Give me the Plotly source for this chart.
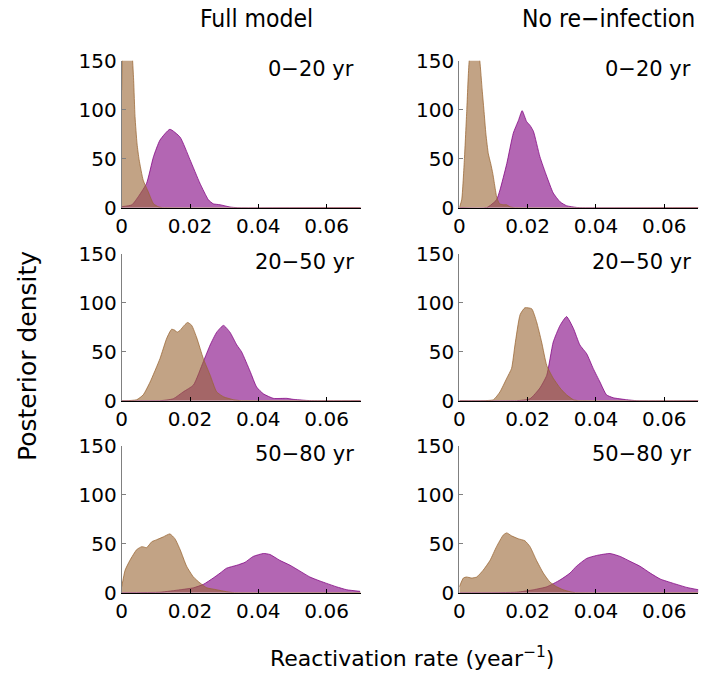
import plotly.graph_objects as go

W, H = 701, 673

col_titles = ["Full model", "No re\u2212infection"]
age_labels = ["0\u221220 yr", "20\u221250 yr", "50\u221280 yr"]
x_tickvals = [0, 0.02, 0.04, 0.06]
x_ticktext = ["0", "0.02", "0.04", "0.06"]
y_tickvals = [0, 50, 100, 150]
y_ticktext = ["0", "50", "100", "150"]

# ---- Full model, 0-20 yr
full_0_20_tan_x = [0, 0.0003, 0.001, 0.002, 0.003, 0.0035, 0.0039, 0.0045, 0.0051, 0.0063, 0.0078, 0.0093, 0.0107, 0.012, 0.07]
full_0_20_tan_y = [120, 175, 195, 185, 160, 130, 93, 65, 49, 28, 16, 4, 1, 0, 0]
full_0_20_pur_x = [0, 0.003, 0.005, 0.0073, 0.0093, 0.0112, 0.0141, 0.0171, 0.02, 0.0229, 0.0254, 0.0268, 0.0288, 0.0317, 0.034, 0.07]
full_0_20_pur_y = [1, 3, 12, 25, 52, 69, 80, 72, 49, 25, 8, 4, 3, 0.7, 0, 0]

# ---- No re-infection, 0-20 yr
noreinf_0_20_tan_x = [0, 0.0007, 0.0015, 0.0022, 0.0029, 0.0045, 0.006, 0.0067, 0.0072, 0.0078, 0.0085, 0.0092, 0.0098, 0.0104, 0.011, 0.0118, 0.0128, 0.0138, 0.0148, 0.016, 0.07]
noreinf_0_20_tan_y = [0, 8, 50, 100, 150, 185, 150, 120, 100, 75, 55, 45, 35, 22, 10, 4, 3, 3, 1, 0, 0]
noreinf_0_20_pur_x = [0, 0.008, 0.0109, 0.0119, 0.0139, 0.0158, 0.0173, 0.0184, 0.0197, 0.0207, 0.0217, 0.0236, 0.0256, 0.0275, 0.0295, 0.0314, 0.0343, 0.036, 0.07]
noreinf_0_20_pur_y = [0, 0, 8, 18, 45, 76, 89, 99, 88, 84, 78, 52, 32, 15, 6, 2, 0.3, 0, 0]

# ---- Full model, 20-50 yr
full_20_50_tan_x = [0, 0.0015, 0.0044, 0.0063, 0.0083, 0.0112, 0.0132, 0.0146, 0.0156, 0.0162, 0.0171, 0.0183, 0.0193, 0.0205, 0.022, 0.0239, 0.0259, 0.0278, 0.0298, 0.0327, 0.035, 0.07]
full_20_50_tan_y = [0, 0, 1, 6, 19, 43, 64, 73, 72, 70, 72, 77, 80, 77, 64, 43, 26, 9, 4, 1, 0, 0]
full_20_50_pur_x = [0, 0.0112, 0.0151, 0.018, 0.021, 0.0239, 0.0259, 0.0278, 0.0298, 0.0317, 0.0337, 0.0351, 0.0376, 0.0395, 0.0415, 0.0444, 0.0483, 0.0502, 0.0541, 0.056, 0.07]
full_20_50_pur_y = [0, 0, 2, 9, 16, 40, 57, 70, 77, 70, 57, 50, 30, 14, 7, 2.4, 2.4, 1.4, 0.3, 0, 0]

# ---- No re-infection, 20-50 yr
noreinf_20_50_tan_x = [0, 0.007, 0.01, 0.0119, 0.0139, 0.0153, 0.0163, 0.0178, 0.0192, 0.0212, 0.0226, 0.0241, 0.0256, 0.0275, 0.0295, 0.0314, 0.0334, 0.035, 0.07]
noreinf_20_50_tan_y = [0, 0, 1, 9, 23, 33, 57, 88, 95, 94, 81, 60, 36, 23, 13, 6, 1, 0, 0]
noreinf_20_50_pur_x = [0, 0.0168, 0.0207, 0.0236, 0.0256, 0.0275, 0.0295, 0.0314, 0.0334, 0.0353, 0.0373, 0.0392, 0.0412, 0.0431, 0.0451, 0.049, 0.052, 0.07]
noreinf_20_50_pur_y = [0, 0, 2, 13, 26, 60, 77, 86, 74, 57, 48, 33, 19, 6, 3, 1, 0, 0]

# ---- Full model, 50-80 yr
full_50_80_tan_x = [0, 0.001, 0.0024, 0.0044, 0.0059, 0.0073, 0.0088, 0.0102, 0.0122, 0.0141, 0.0156, 0.0171, 0.019, 0.021, 0.0229, 0.0249, 0.0278, 0.0307, 0.033, 0.07]
full_50_80_tan_y = [6, 23, 33, 44, 47, 46, 52, 54, 57, 60, 55, 44, 27, 16, 10, 5, 3, 1, 0, 0]
full_50_80_pur_x = [0, 0.0112, 0.0171, 0.021, 0.0239, 0.0268, 0.0288, 0.0307, 0.0337, 0.0361, 0.0385, 0.0415, 0.0434, 0.0463, 0.0493, 0.0522, 0.0551, 0.058, 0.06, 0.0629, 0.0659, 0.0698]
full_50_80_pur_y = [0, 0.5, 3, 5, 8.5, 15, 20, 25, 28, 31, 37, 40, 39, 33, 28, 22, 16, 12, 9.5, 6, 3, 1.4]

# ---- No re-infection, 50-80 yr
noreinf_50_80_tan_x = [0, 0.0012, 0.0021, 0.0036, 0.0051, 0.007, 0.009, 0.0109, 0.0129, 0.0139, 0.0153, 0.0173, 0.0192, 0.0207, 0.0226, 0.0246, 0.0265, 0.0285, 0.0304, 0.0324, 0.034, 0.07]
noreinf_50_80_tan_y = [6, 15, 16, 15, 16, 23, 33, 47, 59, 61, 58, 55, 53, 47, 33, 20, 11, 6, 3, 1, 0, 0]
noreinf_50_80_pur_x = [0, 0.0168, 0.0217, 0.0256, 0.0295, 0.0324, 0.0343, 0.0373, 0.0402, 0.0441, 0.0471, 0.05, 0.0529, 0.0559, 0.0588, 0.0627, 0.0666, 0.07]
noreinf_50_80_pur_y = [0, 0.5, 3, 6, 13, 20, 27, 35, 38, 40, 37, 32, 27, 20, 14, 9.5, 5.4, 3]

panels = [
    [(full_0_20_tan_x, full_0_20_tan_y, full_0_20_pur_x, full_0_20_pur_y),
     (noreinf_0_20_tan_x, noreinf_0_20_tan_y, noreinf_0_20_pur_x, noreinf_0_20_pur_y)],
    [(full_20_50_tan_x, full_20_50_tan_y, full_20_50_pur_x, full_20_50_pur_y),
     (noreinf_20_50_tan_x, noreinf_20_50_tan_y, noreinf_20_50_pur_x, noreinf_20_50_pur_y)],
    [(full_50_80_tan_x, full_50_80_tan_y, full_50_80_pur_x, full_50_80_pur_y),
     (noreinf_50_80_tan_x, noreinf_50_80_tan_y, noreinf_50_80_pur_x, noreinf_50_80_pur_y)],
]

PUR_FILL = "rgba(128,0,128,0.6)"
PUR_LINE = "rgba(128,0,128,0.75)"
TAN_FILL = "rgba(153,102,51,0.6)"
TAN_LINE = "rgba(153,102,51,0.75)"

FONT = "DejaVu Sans"

# pixel layout (margins zero => paper == full page)
col_px = [(121.7, 360.8), (459.3, 698.4)]
row_px = [(60.7, 207.7), (254.0, 400.7), (445.7, 592.7)]

fig = go.Figure()
layout = {}
annotations = []
idx = 0
for r in range(3):
    for c in range(2):
        idx += 1
        xa = "x" if idx == 1 else f"x{idx}"
        ya = "y" if idx == 1 else f"y{idx}"
        tx, ty, px_, py_ = panels[r][c]
        fig.add_trace(go.Scatter(x=px_, y=py_, mode="lines", fill="tozeroy",
                                 fillcolor=PUR_FILL, line=dict(color=PUR_LINE, width=1, shape="spline", smoothing=0.5),
                                 xaxis=xa, yaxis=ya, showlegend=False, hoverinfo="skip"))
        fig.add_trace(go.Scatter(x=tx, y=ty, mode="lines", fill="tozeroy",
                                 fillcolor=TAN_FILL, line=dict(color=TAN_LINE, width=1, shape="spline", smoothing=0.5),
                                 xaxis=xa, yaxis=ya, showlegend=False, hoverinfo="skip"))
        x0, x1 = col_px[c]
        yt, yb = row_px[r]
        xkey = "xaxis" if idx == 1 else f"xaxis{idx}"
        ykey = "yaxis" if idx == 1 else f"yaxis{idx}"
        layout[xkey] = dict(domain=[x0 / W, x1 / W], anchor=ya, range=[0, 0.07], automargin=False,
                            tickvals=x_tickvals, ticktext=x_ticktext, ticks="inside", ticklen=4,
                            tickcolor="black", showline=True, linecolor="black", linewidth=1,
                            showgrid=False, zeroline=False,
                            tickfont=dict(family=FONT, size=20, color="black"))
        layout[ykey] = dict(domain=[1 - yb / H, 1 - yt / H], anchor=xa, range=[0, 150], automargin=False,
                            tickvals=y_tickvals, ticktext=y_ticktext, ticks="inside", ticklen=4,
                            tickcolor="#808080", showline=True, linecolor="#808080", linewidth=1,
                            showgrid=False, zeroline=False,
                            tickfont=dict(family=FONT, size=20, color="black"))
        annotations.append(dict(text=age_labels[r], xref="paper", yref="paper",
                                x=(x1 - 5) / W, y=1 - (yt + 8) / H, xanchor="right", yanchor="middle",
                                showarrow=False, font=dict(family=FONT, size=21, color="black")))

annotations.append(dict(text=col_titles[0], xref="paper", yref="paper", x=256 / W, y=1 - 18 / H,
                        xanchor="center", yanchor="middle", showarrow=False,
                        font=dict(family="DejaVu Sans Condensed", size=24.5, color="black")))
annotations.append(dict(text=col_titles[1], xref="paper", yref="paper", x=608 / W, y=1 - 18 / H,
                        xanchor="center", yanchor="middle", showarrow=False,
                        font=dict(family="DejaVu Sans Condensed", size=24.5, color="black")))
annotations.append(dict(text="Posterior density", xref="paper", yref="paper", x=27 / W, y=1 - 356 / H,
                        xanchor="center", yanchor="middle", textangle=-90, showarrow=False,
                        font=dict(family=FONT, size=25, color="black")))
annotations.append(dict(text="Reactivation rate (year<sup>\u22121</sup>)", xref="paper", yref="paper",
                        x=412 / W, y=1 - 657 / H, xanchor="center", yanchor="middle", showarrow=False,
                        font=dict(family=FONT, size=22, color="black")))

fig.update_layout(**layout)
fig.update_layout(width=W, height=H, margin=dict(l=0, r=0, t=0, b=0, autoexpand=False),
                  paper_bgcolor="white", plot_bgcolor="white",
                  annotations=annotations, showlegend=False)

fig.write_html("out.html", config={"displayModeBar": False})
